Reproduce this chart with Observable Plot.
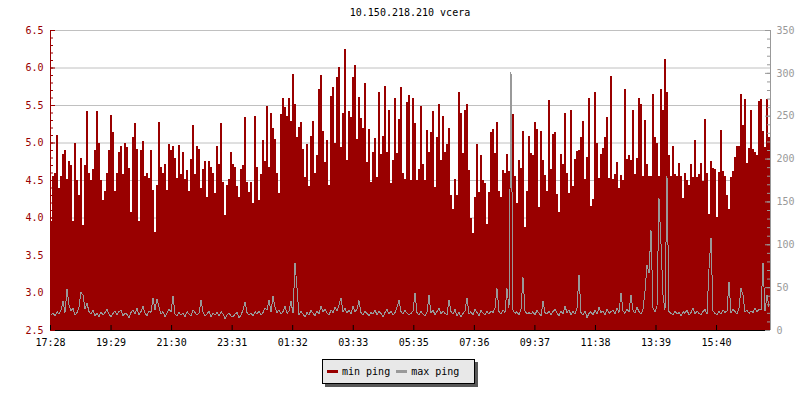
<!DOCTYPE html>
<html><head><meta charset="utf-8">
<script src="https://cdn.jsdelivr.net/npm/d3@7"></script>
<script src="https://cdn.jsdelivr.net/npm/@observablehq/plot@0.6"></script>
<style>
body{margin:0;background:#fff;}
#wrap{position:relative;width:800px;height:400px;font-family:"DejaVu Sans Mono",monospace;font-size:10px;color:#000;}
#chart{position:absolute;left:0;top:0;}
#title{position:absolute;left:50px;width:720px;top:6px;line-height:14px;text-align:center;}
#legend{position:absolute;left:322px;top:359px;width:153px;height:25px;box-sizing:border-box;border:1px solid #000;background:#e8e8e8;box-shadow:3px 3px 0 #585858;display:flex;align-items:center;padding-left:4px;line-height:14px;color:#000;}
#legend .sw{display:inline-block;width:11px;height:3px;margin-right:4px;}
</style></head><body>
<div id="wrap"><div id="chart"></div><div id="title">10.150.218.210 vcera</div>
<div id="legend"><span class="sw" style="background:#990000"></span><span>min ping</span><span class="sw" style="background:#999;margin-left:6px"></span><span>max ping</span></div></div>
<script>
const timeLabels = ["17:28","19:29","21:30","23:31","01:32","03:33","05:35","07:36","09:37","11:38","13:39","15:40"];
const seriesNames = ["min ping","max ping"];
// min ping, left axis (ms), one value every 4 minutes over 24 h
const minPing = [
3.95,4.55,4.6,5.1,4.4,4.55,4.85,4.9,4.52,4.75,
4.7,3.95,5.0,4.5,4.3,4.8,3.9,4.7,5.42,4.6,
4.5,4.65,4.9,5.42,5.0,4.5,4.24,4.36,4.6,4.9,
5.37,5.14,4.35,4.6,4.87,4.96,4.58,5.0,4.94,4.66,
4.08,5.08,5.26,4.92,3.96,4.9,5.02,4.55,4.6,4.53,
4.9,4.37,3.81,4.43,5.28,4.67,4.6,4.72,4.37,4.98,
4.9,4.95,4.8,4.53,4.97,4.58,4.87,4.52,4.63,4.36,
4.78,5.23,4.58,4.96,4.92,4.4,4.65,4.75,4.27,4.75,
4.67,4.59,4.33,4.95,4.72,5.26,4.47,4.04,4.43,4.52,
4.88,4.71,4.68,4.42,4.27,4.65,4.7,5.34,4.47,4.34,
4.47,4.19,5.36,4.67,4.24,4.58,5.03,4.75,5.49,4.67,
5.4,5.2,5.05,4.6,4.33,5.38,5.6,5.47,5.36,5.6,
5.29,5.91,5.51,5.07,5.21,5.28,4.92,4.54,4.98,4.42,
5.09,5.29,4.6,4.83,5.72,5.9,5.16,4.74,5.03,4.44,
5.62,5.74,5.0,5.87,6.01,4.94,5.39,6.25,4.77,5.42,
5.34,5.87,6.04,5.05,5.61,5.33,5.2,5.79,4.74,5.18,
4.47,4.87,5.06,4.54,5.68,4.85,5.09,5.76,4.87,5.43,
4.46,4.77,5.6,4.86,5.32,5.74,4.6,4.52,5.54,5.64,
4.5,5.59,5.26,4.5,4.65,5.49,4.72,4.5,5.17,4.88,
5.14,5.42,4.41,5.07,5.52,4.77,5.35,4.87,4.98,5.19,
4.3,4.11,4.52,4.3,5.67,5.4,4.86,5.43,5.52,4.63,
3.99,3.79,4.27,4.98,4.34,4.83,4.5,4.46,3.92,4.34,
5.14,5.18,4.86,5.28,4.36,4.27,4.63,4.6,4.85,4.62,
4.99,5.38,4.56,4.19,4.77,4.66,5.16,3.88,4.36,5.09,
4.86,4.83,5.27,5.18,4.14,5.16,4.77,4.57,4.35,5.57,
4.65,5.12,5.14,4.32,4.08,4.85,4.71,5.39,4.59,4.33,
5.43,4.42,4.78,4.89,4.9,5.08,5.29,4.52,4.81,5.6,
4.16,4.25,5.67,5.0,4.53,4.85,4.93,5.07,5.34,4.53,
5.89,4.52,4.58,4.74,4.39,4.57,4.5,5.72,4.78,4.84,
4.77,5.43,4.58,4.8,5.59,5.52,4.55,5.3,4.71,4.55,
4.56,5.65,5.07,5.0,4.56,5.71,5.43,6.12,5.67,4.83,
4.56,4.96,4.58,4.56,4.73,4.55,4.26,4.6,4.5,4.43,
4.72,4.54,5.04,4.54,4.58,4.73,4.49,5.31,4.59,4.05,
4.76,4.66,4.65,4.01,4.61,5.17,4.62,4.55,4.3,4.11,
4.54,4.62,4.81,4.95,4.96,5.65,5.24,5.58,4.73,4.93,
5.43,4.92,4.87,4.83,5.56,5.58,5.16,4.94,5.58,5.07
];
// max ping, right axis (ms)
const maxPing = [
18,20,17,22,19,24,34,21,48,30,
23,26,18,21,27,45,41,25,32,22,
19,24,17,20,16,22,18,21,25,19,
16,20,23,18,22,24,17,20,19,15,
21,24,19,26,18,22,28,20,17,23,
21,38,24,37,27,19,22,16,20,25,
22,40,19,17,21,18,20,16,22,19,
17,24,21,18,20,35,22,17,19,23,
16,20,18,21,17,22,19,14,18,20,
17,16,19,21,15,18,24,33,21,18,
20,17,22,19,23,18,21,26,24,35,
22,40,27,21,24,19,22,28,20,23,
34,20,79,50,18,22,19,16,21,18,
24,20,17,23,19,28,22,25,20,18,
24,21,27,23,30,38,22,26,20,24,
19,28,22,25,35,21,18,22,20,17,
21,19,24,18,22,20,16,21,25,19,
23,18,21,27,35,22,19,24,20,18,
20,23,44,21,18,22,19,17,21,41,
20,24,18,22,26,19,23,20,18,36,
22,19,25,17,21,16,20,23,38,19,
22,18,25,21,17,24,20,18,22,19,
23,21,26,49,22,19,24,21,49,26,
302,24,20,22,18,25,62,23,19,21,
19,22,18,24,20,17,34,21,19,23,
18,22,25,20,17,23,19,28,21,24,
18,22,19,26,65,21,18,23,15,20,
22,18,24,19,27,21,23,18,25,20,
22,24,19,26,21,44,23,20,25,22,
41,24,20,27,22,19,25,46,76,67,
117,26,22,28,154,101,41,24,180,22,
20,18,23,19,21,17,22,20,24,18,
21,26,19,23,20,18,22,25,19,72,
108,23,20,18,22,19,24,21,23,57,
20,25,22,19,26,49,41,22,24,20,
23,21,26,22,25,24,79,23,41,28
];
const leftRange = [2.5, 6.5];
const rightRange = [0, 350];

const STEP = 4, SPAN = 1440, TICK_STEP = 121.1;
const toLeft = v => leftRange[0] + (v - rightRange[0]) * (leftRange[1] - leftRange[0]) / (rightRange[1] - rightRange[0]);
const toRight = y => (y - leftRange[0]) * (rightRange[1] - rightRange[0]) / (leftRange[1] - leftRange[0]) + rightRange[0];
const rows = minPing.map((v, i) => ({t: i * STEP, min: v, max: maxPing[i]}));
const areaRows = rows.concat([{t: SPAN, min: minPing[minPing.length - 1], max: maxPing[maxPing.length - 1]}]);
const leftMajor = d3.range(5, 14).map(k => k / 2);
const leftMinor = d3.range(25, 66).map(k => k / 10);
const rightMajor = d3.range(0, 351, 50).map(toLeft);
const rightMinor = d3.range(0, 351, 10).map(toLeft);
const xTicks = timeLabels.map((_, k) => k * TICK_STEP);
const labelAt = new Map(xTicks.map((t, k) => [t, timeLabels[k]]));
const W = 800, H = 400, ML = 50, MR = 30, MT = 30, MB = 70;
const fw = W - ML - MR, fh = H - MT - MB;

const chart = Plot.plot({
  width: W, height: H, marginLeft: ML, marginRight: MR, marginTop: MT, marginBottom: MB,
  style: {fontFamily: "DejaVu Sans Mono", fontSize: "10px", background: "transparent"},
  x: {domain: [0, SPAN], label: null},
  y: {domain: leftRange, label: null},
  marks: [
    Plot.ruleY(leftMajor.filter(d => d > leftRange[0]), {stroke: "#c0c0c0"}),
    Plot.areaY(areaRows, {x: "t", y1: leftRange[0], y2: "min", curve: "step-after", fill: "#990000", shapeRendering: "crispEdges"}),
    Plot.lineY(rows, {x: d => d.t + STEP / 4, y: d => toLeft(d.max), curve: "linear", stroke: "#999999", strokeWidth: 1, shapeRendering: "crispEdges"}),
    Plot.ruleX([0], {stroke: "#990000"}),
    Plot.ruleX([SPAN], {stroke: "#999999"}),
    Plot.ruleY([leftRange[0]], {stroke: "#000"}),
    Plot.ruleY(leftMajor, {stroke: "#990000", insetRight: fw - 5}),
    Plot.ruleY(leftMinor, {stroke: "#990000", insetRight: fw - 3}),
    Plot.ruleY(rightMajor, {stroke: "#999999", insetLeft: fw - 5}),
    Plot.ruleY(rightMinor, {stroke: "#999999", insetLeft: fw - 3}),
    Plot.ruleX(xTicks, {stroke: "#000", insetTop: fh - 5}),
    Plot.axisY(leftMajor, {anchor: "left", tickSize: 0, tickPadding: 7, color: "#990000", label: null, tickFormat: d => d.toFixed(1)}),
    Plot.axisY(rightMajor, {anchor: "right", tickSize: 0, tickPadding: 6, color: "#999999", label: null, tickFormat: d => String(Math.round(toRight(d)))}),
    Plot.axisX(xTicks, {anchor: "bottom", tickSize: 0, tickPadding: 8, color: "#000", label: null, tickFormat: d => labelAt.get(d)})
  ]
});
document.getElementById("chart").appendChild(chart);
</script>
</body></html>
